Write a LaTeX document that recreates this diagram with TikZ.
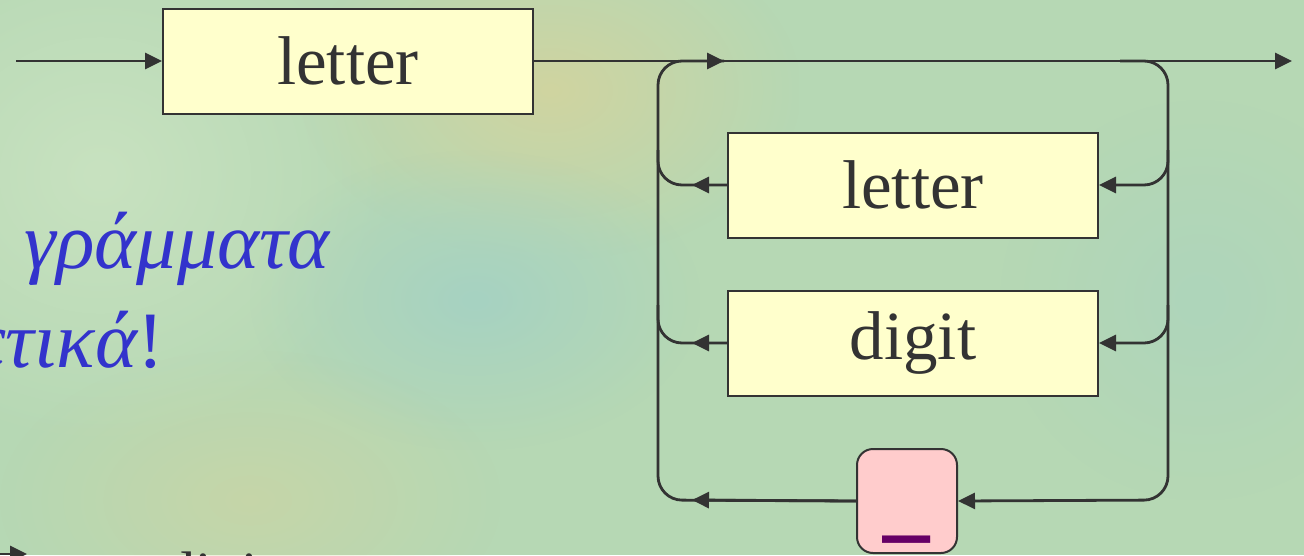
\documentclass[tikz,border=0pt]{standalone}
\usepackage{fontspec}
\setmainfont{Liberation Serif}
\newfontfamily\monob{DejaVu Sans Mono}
\usetikzlibrary{arrows.meta,fadings}
\tikzfading[name=softblob,inner color=transparent!0,outer color=transparent!100]
\definecolor{bgc}{HTML}{B6D8B4}
\definecolor{ytint}{HTML}{D0D4A0}
\definecolor{btint}{HTML}{A6D2C2}
\definecolor{ltint}{HTML}{C8E2C0}
\definecolor{linec}{HTML}{333333}
\definecolor{boxfill}{HTML}{FFFFCC}
\definecolor{pinkfill}{HTML}{FFCCCC}
\definecolor{greekc}{HTML}{3333CC}
\definecolor{uscore}{HTML}{660066}
\tikzset{
  conn/.style={draw=linec,line width=2.8pt},
  arr/.style={-{Triangle[length=17pt,width=16pt]}},
  ntbox/.style={rectangle,draw=linec,line width=2pt,fill=boxfill,minimum width=370pt,minimum height=105pt,inner sep=0pt,font=\fontsize{69}{70}\selectfont,text=linec},
  tbox/.style={rectangle,rounded corners=16pt,draw=linec,line width=2pt,fill=pinkfill,minimum width=100pt,minimum height=104pt,inner sep=0pt,text height=46pt,text depth=0pt,font=\monob\bfseries\fontsize{80}{80}\selectfont,text=uscore},
  greek/.style={font=\itshape\fontsize{80}{84}\selectfont,text=greekc,inner sep=0pt},
  frag/.style={font=\fontsize{60}{64}\selectfont,text=linec,inner sep=0pt}
}
\begin{document}
\begin{tikzpicture}[x=1pt,y=-1pt]
\useasboundingbox (0,0) rectangle (1304,555);
\clip (0,0) rectangle (1304,555);
% background
\fill[bgc] (0,0) rectangle (1304,555);
\fill[ltint,path fading=softblob] (-200,-100) rectangle (400,450);
\fill[ytint,path fading=softblob] (300,-80) rectangle (800,260);
\fill[btint,path fading=softblob] (250,150) rectangle (700,450);
\fill[ytint,opacity=0.6,path fading=softblob] (0,350) rectangle (500,650);
\fill[btint,opacity=0.5,path fading=softblob] (1000,100) rectangle (1400,500);
% texts on the left
\node[greek,anchor=base east] (g1) at (330,268) {γράμματα};
\node[greek,anchor=base east] (g2) at (164,367) {ετικά\upshape!};
\node[frag,anchor=base west] (fr) at (165,593) {digit};
\coordinate (fa) at (-30,554);
\coordinate (fb) at (27,554);
\draw[conn,arr] (fa) -- (fb);
% nodes
\node[ntbox] (l1) at (348,61) {letter};
\node[ntbox] (l2) at (913,185) {letter};
\node[ntbox] (dg) at (913,343) {digit};
\node[tbox] (us) at (907,501) {\_};
% coordinates
\coordinate (s) at (16,61);
\coordinate (e) at (1292,61);
\coordinate (tl) at (658,61);
\coordinate (tr) at (1168,61);
\coordinate (ta) at (690,61);
\coordinate (tb) at (724,61);
\coordinate (tr0) at (1120,61);
\coordinate (bl) at (658,500);
\coordinate (br) at (1168,500);
\coordinate (ll) at (658,185);
\coordinate (lr) at (1168,185);
\coordinate (ll0) at (658,150);
\coordinate (lr0) at (1168,150);
\coordinate (dl) at (658,343);
\coordinate (dr) at (1168,343);
\coordinate (dl0) at (658,305);
\coordinate (dr0) at (1168,305);
\coordinate (la) at (692,185);
\coordinate (da) at (692,343);
\coordinate (ua) at (692,500);
% connectors
\draw[conn,arr] (s) -- (l1.west);
\draw[conn,arr] (l1.east) -- (e);
\draw[conn,rounded corners=24pt] (us.west) -- (bl) -- (tl) -- (tb);
\draw[conn,arr] (ta) -- (tb);
\draw[conn,arr,rounded corners=24pt] (tr0) -- (tr) -- (br) -- (us.east);
\draw[conn,arr,rounded corners=24pt] (lr0) -- (lr) -- (l2.east);
\draw[conn,arr,rounded corners=24pt] (dr0) -- (dr) -- (dg.east);
\draw[conn,rounded corners=24pt] (l2.west) -- (ll) -- (ll0);
\draw[conn,rounded corners=24pt] (dg.west) -- (dl) -- (dl0);
\draw[conn,arr] (l2.west) -- (la);
\draw[conn,arr] (dg.west) -- (da);
\draw[conn,arr] (us.west) -- (ua);
\end{tikzpicture}
\end{document}
